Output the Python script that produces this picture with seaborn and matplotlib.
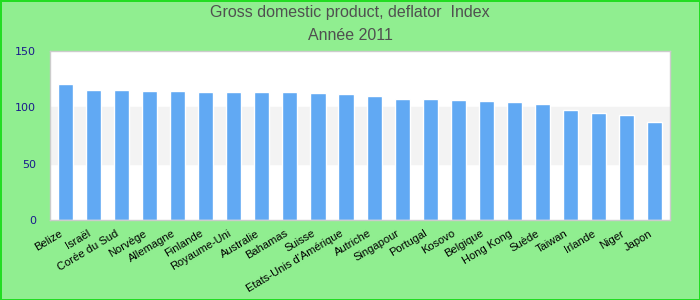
import pandas as pd
import numpy as np
import matplotlib.pyplot as plt
import matplotlib.transforms as mtransforms
import seaborn as sns

# data
countries = ["Belize", "Israël", "Corée du Sud", "Norvège", "Allemagne", "Finlande",
             "Royaume-Uni", "Australie", "Bahamas", "Suisse", "Etats-Unis d'Amérique",
             "Autriche", "Singapour", "Portugal", "Kosovo", "Belgique", "Hong Kong",
             "Suède", "Taiwan", "Irlande", "Niger", "Japon"]
values = [120.9, 115.6, 115.6, 114.7, 114.7, 113.8, 113.8, 113.8, 113.8, 112.9, 112.0,
          110.2, 107.5, 107.5, 106.7, 105.8, 104.9, 103.1, 97.8, 95.1, 93.4, 87.1]
yticks = [0, 50, 100, 150]

df = pd.DataFrame({"pays": countries, "valeur": values})

sns.set_style("white")
plt.rcParams['font.family'] = ['Liberation Sans', 'DejaVu Sans']

fig = plt.figure(figsize=(7, 3), dpi=100)
fig.patch.set_facecolor("#90ee90")
fig.patch.set_edgecolor("#22dd22")
fig.patch.set_linewidth(2)

ax = fig.add_axes([0.0714, 0.2667, 0.886, 0.5633])
ax.set_facecolor("white")
ax.axhspan(50, 100, color="#f3f3f3", zorder=0)

sns.barplot(data=df, x="pays", y="valeur", color="#61a9f3", width=0.54,
            saturation=1, ax=ax, zorder=2)

ax.set_ylim(0, 150)
ax.set_xlim(-0.55, len(countries) - 0.45)
ax.set_yticks(yticks)
ax.set_yticklabels([str(t) for t in yticks], color="#1a1a8c",
                   fontsize=8, family="DejaVu Sans")
ax.set_xticks(range(len(countries)))
ax.set_xticklabels(countries, rotation=31, ha="right", rotation_mode="anchor",
                   fontsize=8, color="black")
ax.tick_params(axis="both", length=0)
ax.tick_params(axis="y", pad=10)
ax.tick_params(axis="x", pad=6)
shift = mtransforms.ScaledTranslation(-6 / 100, 0, fig.dpi_scale_trans)
for lab in ax.get_xticklabels():
    lab.set_transform(lab.get_transform() + shift)
ax.set_xlabel("")
ax.set_ylabel("")
for s in ax.spines.values():
    s.set_visible(True)
    s.set_color("#cccccc")
    s.set_linewidth(1)

fig.text(0.5, 1 - 13 / 300, "Gross domestic product, deflator  Index",
         ha="center", va="center", fontsize=11.5, color="#505050")
fig.text(0.5, 1 - 36 / 300, "Année 2011",
         ha="center", va="center", fontsize=11.5, color="#505050")

fig.savefig("out.png", dpi=100, facecolor=fig.get_facecolor(),
            edgecolor=fig.get_edgecolor())
